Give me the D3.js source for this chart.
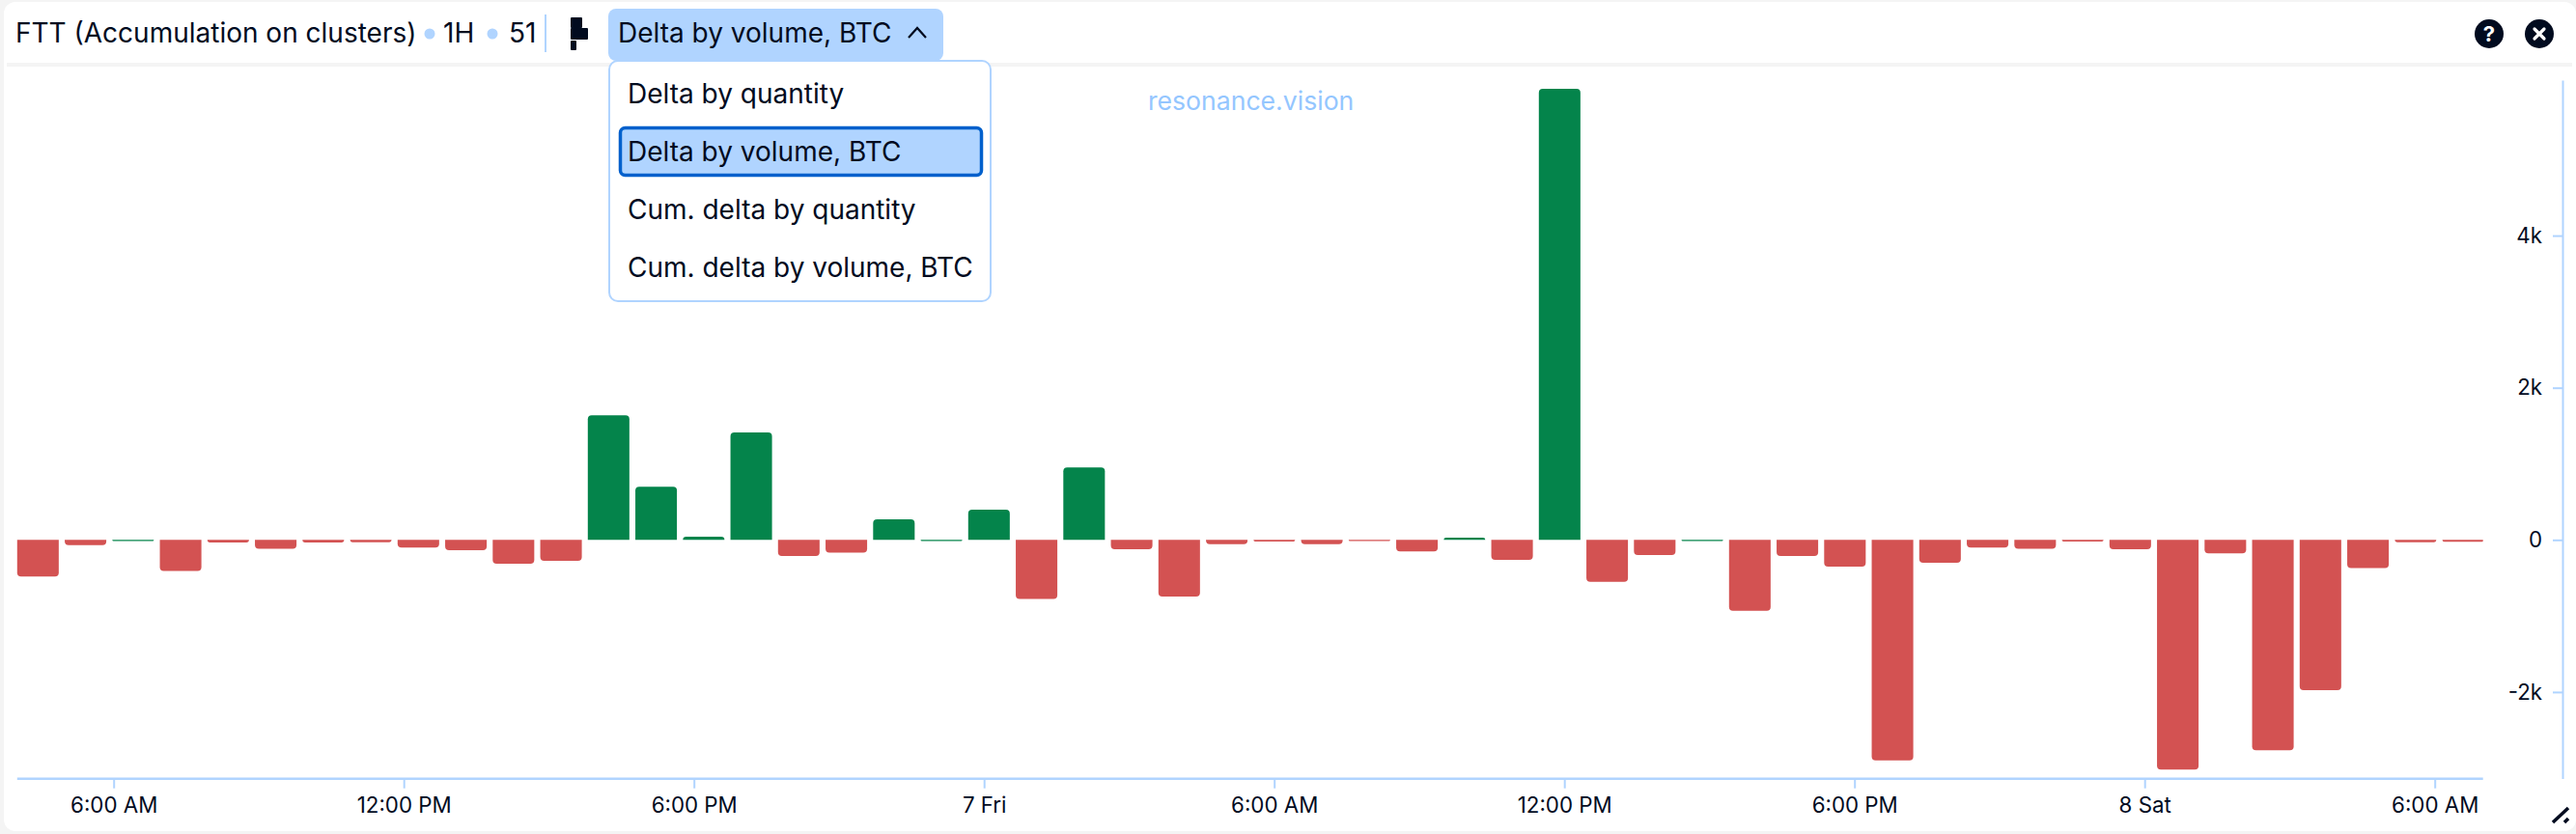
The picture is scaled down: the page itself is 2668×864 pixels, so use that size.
<!DOCTYPE html>
<html>
<head>
<meta charset="utf-8">
<script src="https://cdn.jsdelivr.net/npm/d3@7/dist/d3.min.js"></script>
<style>
    html, body { margin: 0; padding: 0; background: #f4f4f4; overflow: hidden; }
    svg { display: block; font-family: Inter, "Noto Sans", sans-serif; }
    text { fill: #010b1f; }
</style>
</head>
<body>
<svg id="chart" width="2668" height="864"></svg>
<script>
// hourly delta by volume
var deltaValues = [
    -482, -68, 10, -410, -34, -118, -34, -30, -102, -135, -313, -275, 1637,
    698, 42, 1413, -212, -169, 271, 10, 398, -778, 952, -123, -744, -55,
    -21, -55, -15, -152, 30, -262, 5930, -550, -199, 8, -931, -212, -351,
    -2898, -300, -102, -118, -21, -123, -3020, -178, -2766, -1975, -372, -30, -25
];
var hourTicks = [0, 6, 12, 18, 24, 30, 36, 42, 48];
var hourLabels = ['6:00 AM', '12:00 PM', '6:00 PM', '7 Fri', '6:00 AM', '12:00 PM', '6:00 PM', '8 Sat', '6:00 AM'];
var valueTicks = [4000, 2000, 0, -2000];
var valueLabels = ['4k', '2k', '0', '-2k'];
var menuItems = ['Delta by quantity', 'Delta by volume, BTC', 'Cum. delta by quantity', 'Cum. delta by volume, BTC'];
var selectedItem = 1;

var blue = '#b0d4ff', dark = '#010b1f', green = '#04844b', red = '#d35252';

var svg = d3.select('#chart');

//Card and header
svg.append('rect').attr('x', 4).attr('y', 2).attr('width', 2664).attr('height', 859).attr('rx', 12).attr('fill', '#fff');
svg.append('rect').attr('x', 7).attr('y', 65).attr('width', 2657).attr('height', 4).attr('fill', '#f4f4f4');

//Scales
var x = d3.scaleBand()
    .domain(d3.range(deltaValues.length))
    .range([17.8, 17.8 + deltaValues.length * 49.25 - 6.2])
    .paddingInner(0.126);
var xTime = d3.scaleLinear().domain([0, 48]).range([117.7, 2521.7]);
var y = d3.scaleLinear().domain([-3137, 6044]).range([806.5, 83]);

svg.append('clipPath').attr('id', 'plot-clip')
    .append('rect').attr('x', 10).attr('y', 70).attr('width', 2561.7).attr('height', 740);

//Bars, rounded only on the far end
function barPath(d, i) {
    var left = x(i), w = x.bandwidth(), base = y(0), end = y(d);
    if (Math.abs(end - base) < 1.2) end = base + 1.2;
    var r = Math.min(4, Math.abs(end - base));
    var dir = end < base ? 1 : -1;
    return 'M' + left + ',' + base +
        'V' + (end + dir * r) +
        'Q' + left + ',' + end + ' ' + (left + r) + ',' + end +
        'H' + (left + w - r) +
        'Q' + (left + w) + ',' + end + ' ' + (left + w) + ',' + (end + dir * r) +
        'V' + base + 'Z';
}

svg.append('g').attr('clip-path', 'url(#plot-clip)')
    .selectAll('path')
    .data(deltaValues)
    .enter().append('path')
    .attr('d', barPath)
    .attr('fill', d => d > 0 ? green : red);

//Axes
var xAxis = d3.axisBottom(xTime)
    .tickValues(hourTicks)
    .tickFormat((d, i) => hourLabels[i])
    .tickSize(10)
    .tickPadding(9)
    .tickSizeOuter(0);
var xg = svg.append('g').attr('transform', 'translate(0,806.7)').call(xAxis);
xg.select('.domain').remove();
xg.append('line').attr('x1', 17.8).attr('x2', 2571.7).attr('stroke', blue).attr('stroke-width', 2.5);

var yAxis = d3.axisLeft(y)
    .tickValues(valueTicks)
    .tickFormat((d, i) => valueLabels[i])
    .tickSize(10)
    .tickPadding(11)
    .tickSizeOuter(0);
var yg = svg.append('g').attr('transform', 'translate(2654,0)').call(yAxis);

svg.selectAll('.tick line').attr('stroke', blue).attr('stroke-width', 2);
yg.select('.domain').attr('stroke', blue).attr('stroke-width', 2);
svg.selectAll('.tick text').attr('font-size', 22.3).attr('font-family', 'Inter').attr('fill', dark);

//Watermark
svg.append('text').attr('x', 1189).attr('y', 114).attr('font-size', 26.6).attr('style', 'fill:#94c6ff').text('resonance.vision');

//Header text
svg.append('text').attr('x', 16).attr('y', 44).attr('font-size', 28).text('FTT (Accumulation on clusters)');
svg.append('circle').attr('cx', 445).attr('cy', 35).attr('r', 5.5).attr('fill', blue);
svg.append('text').attr('x', 459).attr('y', 44).attr('font-size', 28).text('1H');
svg.append('circle').attr('cx', 510).attr('cy', 35).attr('r', 5.5).attr('fill', blue);
svg.append('text').attr('x', 527).attr('y', 44).attr('font-size', 28).text('51');
svg.append('rect').attr('x', 564).attr('y', 15).attr('width', 2).attr('height', 39).attr('fill', blue);

//Chart type icon
svg.append('rect').attr('x', 591).attr('y', 18).attr('width', 12).attr('height', 11).attr('rx', 1).attr('fill', dark);
svg.append('rect').attr('x', 591).attr('y', 29).attr('width', 18).attr('height', 12).attr('rx', 1).attr('fill', dark);
svg.append('rect').attr('x', 591).attr('y', 42).attr('width', 6).attr('height', 10).attr('rx', 1).attr('fill', dark);

//Dropdown
svg.append('rect').attr('x', 631).attr('y', 63).attr('width', 395).attr('height', 249).attr('rx', 9)
    .attr('fill', '#fff').attr('stroke', blue).attr('stroke-width', 2);
svg.append('rect').attr('x', 630).attr('y', 9).attr('width', 347).attr('height', 54).attr('rx', 8).attr('fill', blue);
svg.append('text').attr('x', 640).attr('y', 44).attr('font-size', 28).text(menuItems[selectedItem]);
svg.append('path').attr('d', 'M941,39L950,29L959,39').attr('fill', 'none').attr('stroke', dark).attr('stroke-width', 2.2);

svg.append('rect').attr('x', 642.5).attr('y', 132.5).attr('width', 374).attr('height', 49).attr('rx', 5)
    .attr('fill', blue).attr('stroke', '#0060cc').attr('stroke-width', 3.5);

svg.selectAll('.menu-item')
    .data(menuItems)
    .enter().append('text')
    .attr('class', 'menu-item')
    .attr('x', 650)
    .attr('y', (d, i) => 107 + i * 60)
    .attr('font-size', 28)
    .text(d => d);

//Help and close buttons
svg.append('circle').attr('cx', 2578).attr('cy', 35).attr('r', 15).attr('fill', dark);
svg.append('text').attr('x', 2578).attr('y', 43).attr('text-anchor', 'middle').attr('font-size', 22).attr('font-weight', 700)
    .attr('style', 'fill:#fff').text('?');
svg.append('circle').attr('cx', 2630).attr('cy', 35).attr('r', 15).attr('fill', dark);
svg.append('path').attr('d', 'M2625,30L2635,40M2635,30L2625,40').attr('stroke', '#fff').attr('stroke-width', 3.2).attr('stroke-linecap', 'round');

//Resize handle
svg.append('path').attr('d', 'M2644,852L2660,837M2656,852L2660,848').attr('stroke', dark).attr('stroke-width', 3.5);
</script>
</body>
</html>
